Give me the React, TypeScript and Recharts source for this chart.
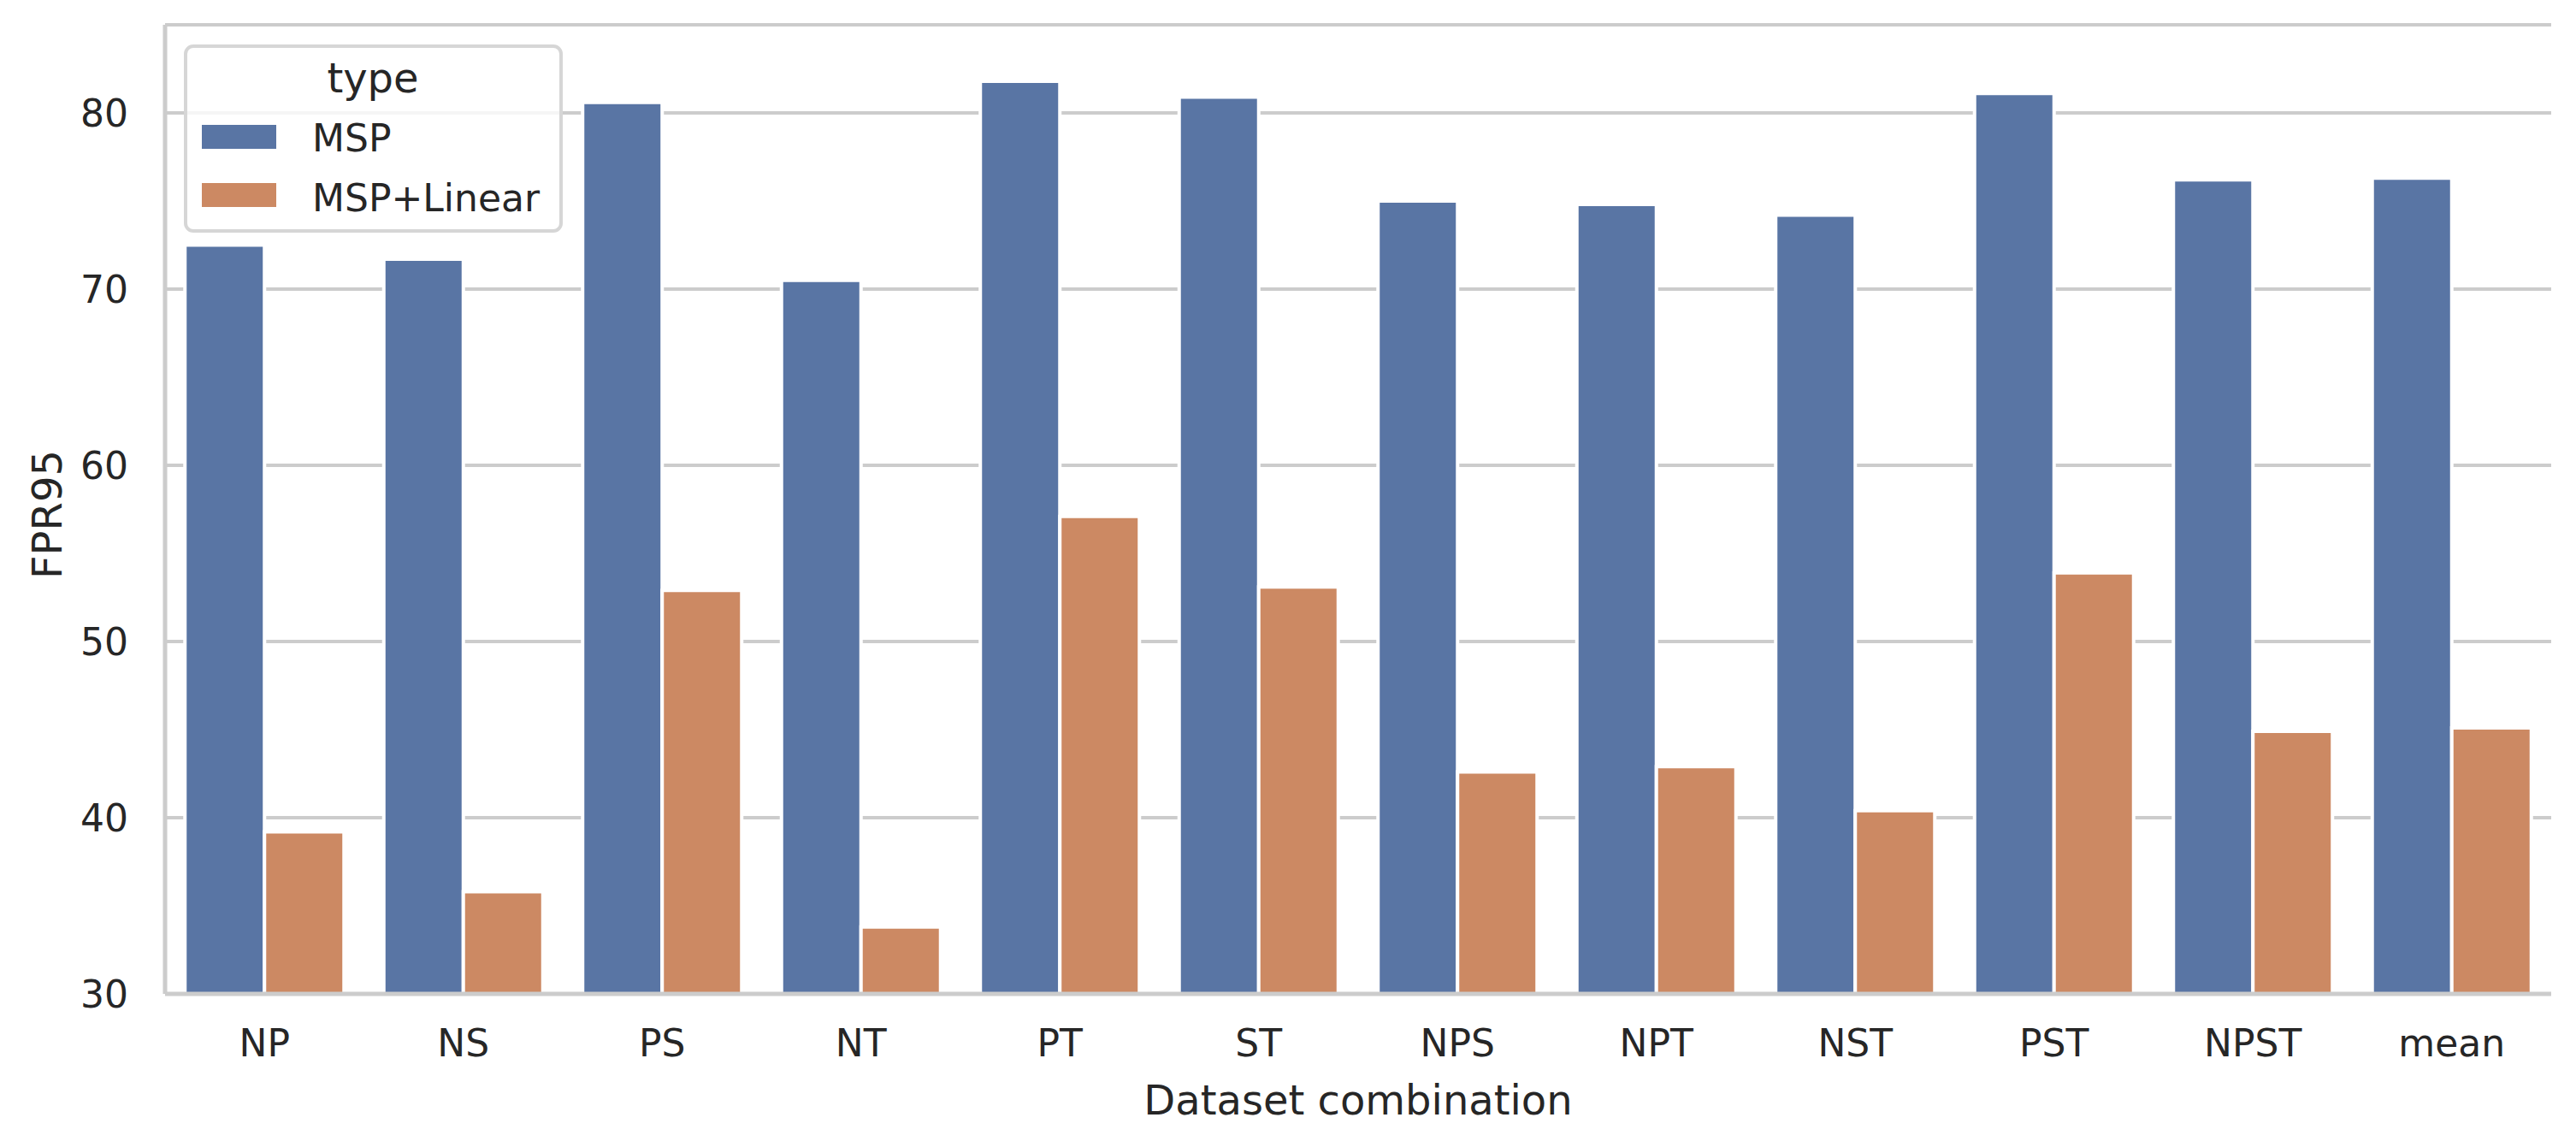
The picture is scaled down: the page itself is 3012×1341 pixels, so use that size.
import React from 'react';
import { BarChart, Bar, XAxis, YAxis, CartesianGrid, Legend } from 'recharts';

// values
const categories = ['NP', 'NS', 'PS', 'NT', 'PT', 'ST', 'NPS', 'NPT', 'NST', 'PST', 'NPST', 'mean'];
const mspValues = [72.5, 71.7, 80.6, 70.5, 81.8, 80.9, 75.0, 74.8, 74.2, 81.1, 76.2, 76.3];
const mspLinearValues = [39.2, 35.8, 52.9, 33.8, 57.1, 53.1, 42.6, 42.9, 40.4, 53.9, 44.9, 45.1];
const yTicks = [30, 40, 50, 60, 70, 80];

const data = categories.map((name, i) => ({
  name,
  msp: mspValues[i],
  mspLinear: mspLinearValues[i],
}));

const FONT = '"DejaVu Sans", sans-serif';
const TEXT = '#262626';
const EDGE = '#cccccc';

const YLabel = (props: any) => {
  const { viewBox } = props;
  const cx = viewBox.x + 29;
  const cy = viewBox.y + viewBox.height / 2 + 6;
  return (
    <text x={cx} y={cy} transform={`rotate(-90 ${cx} ${cy})`} textAnchor="middle"
      fontFamily={FONT} fontSize={48} fill={TEXT}>
      FPR95
    </text>
  );
};

const XLabel = (props: any) => {
  const { viewBox } = props;
  return (
    <text x={viewBox.x + viewBox.width / 2} y={viewBox.y + 141} textAnchor="middle"
      fontFamily={FONT} fontSize={48} fill={TEXT}>
      Dataset combination
    </text>
  );
};

const LegendBox = (props: any) => {
  const { payload = [] } = props;
  return (
    <svg width={443} height={220} style={{ display: 'block' }}>
      <rect x={2} y={2} width={439} height={216} rx={9} ry={9}
        fill="rgba(255,255,255,0.8)" stroke="#d6d6d6" strokeWidth={4} />
      <text x={221} y={56} textAnchor="middle" fontFamily={FONT} fontSize={48} fill={TEXT}>type</text>
      {payload.map((entry: any, i: number) => (
        <g key={entry.value}>
          <rect x={21} y={94 + i * 68} width={87} height={28} fill={entry.color} />
          <text x={150} y={125 + i * 70} fontFamily={FONT} fontSize={44} fill={TEXT}>{entry.value}</text>
        </g>
      ))}
    </svg>
  );
};

export default function App() {
  return (
    <div style={{ position: 'absolute', left: 0, top: 0, background: '#fff' }}>
      <BarChart
        width={3012}
        height={1341}
        data={data}
        margin={{ top: 29, right: 29, bottom: 0, left: 43 }}
        barCategoryGap="10%"
        barGap={0}
      >
        <CartesianGrid vertical={false} stroke={EDGE} strokeWidth={4} />
        <XAxis
          dataKey="name"
          height={179}
          tickLine={false}
          tickSize={0}
          tickMargin={42}
          tick={{ fill: TEXT, fontSize: 44, fontFamily: FONT }}
          axisLine={{ stroke: EDGE, strokeWidth: 5 }}
          label={{ content: XLabel }}
        />
        <XAxis xAxisId="top" dataKey="name" orientation="top" height={0} tick={false}
          tickLine={false} axisLine={{ stroke: EDGE, strokeWidth: 5 }} />
        <YAxis
          type="number"
          domain={[30, 85]}
          ticks={yTicks}
          allowDataOverflow
          width={150}
          tickLine={false}
          tickSize={0}
          tickMargin={43}
          tick={{ fill: TEXT, fontSize: 44, fontFamily: FONT }}
          axisLine={{ stroke: EDGE, strokeWidth: 5 }}
          label={{ content: YLabel }}
        />
        <YAxis yAxisId="right" orientation="right" width={0} domain={[30, 85]} tick={false}
          tickLine={false} axisLine={{ stroke: EDGE, strokeWidth: 5 }} />
        <Legend
          layout="vertical"
          align="center"
          verticalAlign="middle"
          wrapperStyle={{ left: 215, top: 52, width: 443, height: 220 }}
          content={LegendBox}
        />
        <Bar dataKey="msp" name="MSP" fill="#5975a4" stroke="#ffffff" strokeWidth={4} isAnimationActive={false} />
        <Bar dataKey="mspLinear" name="MSP+Linear" fill="#cc8963" stroke="#ffffff" strokeWidth={4} isAnimationActive={false} />
      </BarChart>
    </div>
  );
}
